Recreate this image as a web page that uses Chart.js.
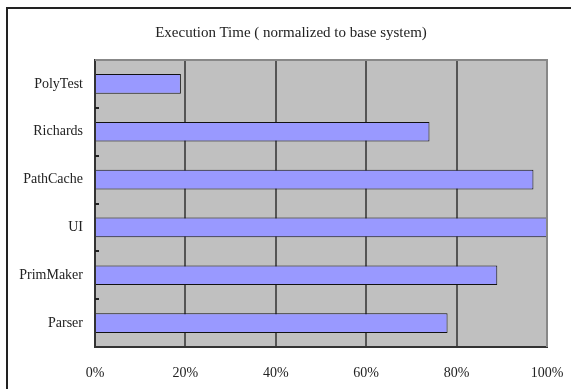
<!DOCTYPE html>
<html>
<head>
<meta charset="utf-8">
<script src="https://cdn.jsdelivr.net/npm/chart.js@4"></script>
<style>
    body { margin: 0; background: #fff; }
    #frame {
        position: absolute;
        left: 6px;
        top: 7px;
        width: 600px;
        height: 400px;
        border-left: 2px solid #222;
        border-top: 2px solid #222;
    }
    #title {
        position: absolute;
        left: 0;
        top: 24px;
        width: 582px;
        line-height: 18px;
        text-align: center;
        font: 15px "Liberation Serif", "DejaVu Serif", serif;
        color: #222;
    }
    #chart { position: absolute; left: 0; top: 0; }
</style>
</head>
<body>
<div id="frame"></div>
<canvas id="chart" width="571" height="389"></canvas>
<div id="title">Execution Time ( normalized to base system)</div>
<script>
const categories = ['PolyTest', 'Richards', 'PathCache', 'UI', 'PrimMaker', 'Parser'];
const executionTime = [19, 74, 97, 100, 89, 78];
const xTicks = [0, 20, 40, 60, 80, 100];

const serif = '"Liberation Serif", "DejaVu Serif", serif';

// gray plot background, light top/right border and small inner ticks on the y axis
const plotDecor = {
    id: 'plotDecor',
    beforeDraw(chart) {
        const { ctx, chartArea: a } = chart;
        ctx.save();
        ctx.fillStyle = '#c0c0c0';
        ctx.fillRect(a.left, a.top, a.right - a.left, a.bottom - a.top);
        ctx.restore();
    },
    afterDatasetsDraw(chart) {
        const { ctx, chartArea: a } = chart;
        const y = chart.scales.y;
        ctx.save();
        ctx.strokeStyle = '#888';
        ctx.lineWidth = 2;
        ctx.beginPath();
        ctx.moveTo(a.left, a.top);
        ctx.lineTo(a.right, a.top);
        ctx.lineTo(a.right, a.bottom);
        ctx.stroke();
        ctx.strokeStyle = '#222';
        ctx.lineWidth = 2;
        ctx.beginPath();
        for (let i = 1; i < categories.length; i++) {
            const py = Math.round(y.getPixelForValue(i - 0.5));
            ctx.moveTo(a.left, py);
            ctx.lineTo(a.left + 4, py);
        }
        ctx.stroke();
        ctx.restore();
    }
};

new Chart(document.getElementById('chart').getContext('2d'), {
    type: 'bar',
    data: {
        labels: categories,
        datasets: [{
            data: executionTime,
            backgroundColor: '#9999ff',
            borderColor: '#111',
            borderWidth: 1,
            barPercentage: 0.41,
            categoryPercentage: 1
        }]
    },
    plugins: [plotDecor],
    options: {
        indexAxis: 'y',
        responsive: false,
        animation: false,
        layout: { padding: { left: 0, right: 24, top: 60, bottom: 0 } },
        plugins: {
            legend: { display: false },
            tooltip: { enabled: false },
            title: { display: false }
        },
        scales: {
            x: {
                min: 0,
                max: 100,
                afterBuildTicks: (scale) => {
                    scale.ticks = xTicks.map(v => ({ value: v }));
                },
                afterFit: (scale) => {
                    scale.height = 42;
                    scale.paddingLeft = 0;
                    scale.paddingRight = 0;
                },
                ticks: {
                    color: '#222',
                    padding: 18,
                    font: { family: serif, size: 14 },
                    callback: (v) => v + '%'
                },
                grid: {
                    color: (c) => c.tick && c.tick.value === 100 ? '#888' : '#555',
                    lineWidth: 2,
                    drawTicks: false
                },
                border: { display: true, color: '#333', width: 2 }
            },
            y: {
                afterFit: (scale) => {
                    scale.width = 95;
                    scale.paddingTop = 0;
                    scale.paddingBottom = 0;
                },
                ticks: {
                    color: '#222',
                    padding: 12,
                    font: { family: serif, size: 14 }
                },
                grid: { display: false, drawTicks: false },
                border: { display: true, color: '#333', width: 2 }
            }
        }
    }
});
</script>
</body>
</html>
